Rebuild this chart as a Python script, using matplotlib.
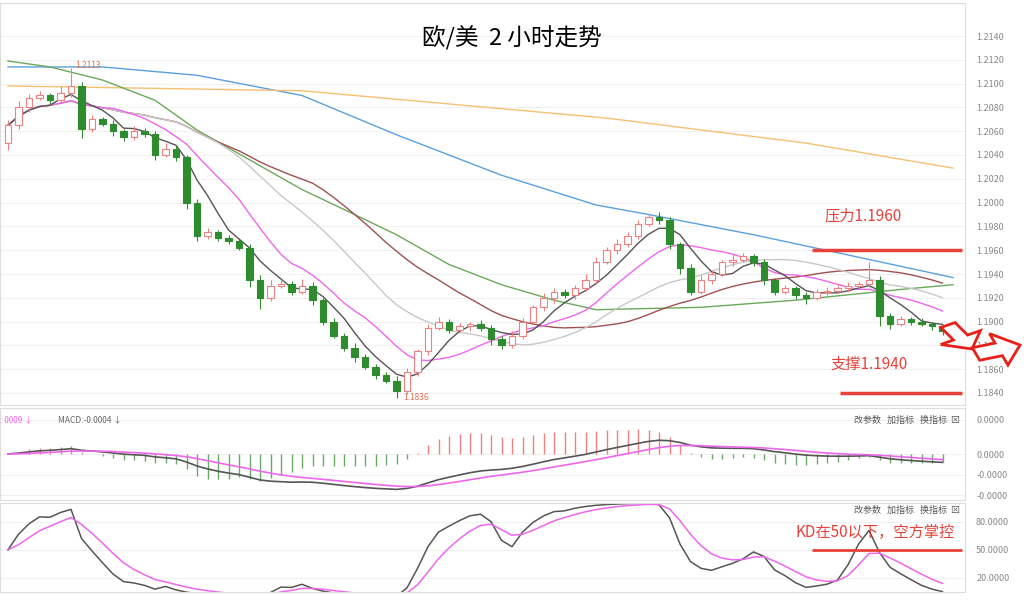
import numpy as np
import pandas as pd
import matplotlib
matplotlib.use("Agg")
import matplotlib.pyplot as plt
from matplotlib.patches import Rectangle, FancyArrow

plt.rcParams['font.family'] = ['Noto Sans CJK SC', 'DejaVu Sans']

closes = [1.2065,1.2080,1.2088,1.2090,1.2086,1.2092,1.2098,1.2062,1.2070,1.2066,
          1.2060,1.2055,1.2060,1.2058,1.2040,1.2045,1.2038,1.2000,1.1972,1.1975,
          1.1970,1.1968,1.1962,1.1935,1.1920,1.1930,1.1932,1.1925,1.1930,1.1918,
          1.1900,1.1888,1.1878,1.1870,1.1862,1.1855,1.1850,1.1842,1.1858,1.1875,
          1.1895,1.1900,1.1893,1.1896,1.1898,1.1895,1.1885,1.1880,1.1888,1.1900,
          1.1912,1.1920,1.1925,1.1922,1.1928,1.1935,1.1950,1.1960,1.1965,1.1972,
          1.1982,1.1988,1.1985,1.1965,1.1945,1.1925,1.1935,1.1940,1.1950,1.1952,
          1.1955,1.1950,1.1935,1.1925,1.1928,1.1922,1.1920,1.1925,1.1926,1.1928,
          1.1930,1.1932,1.1935,1.1905,1.1898,1.1902,1.1900,1.1898,1.1896,1.1892]
first_open = 1.2050
wick_up = [4,5,3,4,2,6,15,3,4,2,3,2,4,3,2,5,3,2,3,4,2,3,2,3,4,5,3,2,6,3,
           2,3,2,4,3,2,3,4,3,2,3,4,2,3,2,3,2,3,4,3,2,4,3,2,3,5,4,3,4,3,
           3,2,4,3,2,3,4,3,2,5,3,2,3,2,3,2,3,2,3,4,3,2,15,3,2,3,2,3,2,2]
wick_dn = [6,3,4,2,3,2,3,8,3,2,4,3,2,3,4,2,3,5,4,3,2,3,2,6,9,3,2,3,2,4,
           3,2,3,4,2,3,2,6,3,4,3,2,3,2,4,3,5,3,2,3,2,3,4,2,3,2,3,2,3,2,
           3,2,3,4,5,3,2,3,2,3,2,3,4,3,2,3,5,2,3,2,3,2,3,9,4,2,3,2,3,3]

blue_x = [0, 9, 18, 28, 37, 47, 56, 61, 71, 80, 90]
blue_y = [1.2114, 1.2114, 1.2107, 1.2090, 1.2057, 1.2023, 1.1998, 1.1990, 1.1973, 1.1956, 1.1937]
orange_x = [0, 28, 57, 76, 90]
orange_y = [1.2098, 1.2094, 1.2071, 1.2050, 1.2029]
green_x = [0, 4, 9, 14, 18, 23, 28, 33, 37, 42, 47, 52, 56, 66, 75, 85, 90]
green_y = [1.2119, 1.2114, 1.2103, 1.2086, 1.2061, 1.2036, 1.2011, 1.1990, 1.1973,
           1.1948, 1.1931, 1.1918, 1.1910, 1.1912, 1.1918, 1.1927, 1.1931]

n = len(closes)
idx = np.arange(n)
c = np.array(closes)
o = np.concatenate([[first_open], c[:-1]])
hi = np.maximum(o, c) + np.array(wick_up) * 1e-4
lo = np.minimum(o, c) - np.array(wick_dn) * 1e-4
s = pd.Series(c)

W, H = 1024, 605
fig = plt.figure(figsize=(10.24, 6.05), dpi=100)
def axrect(top, bot):
    return [0, 1 - bot / H, 965 / W, (bot - top) / H]

ax = fig.add_axes(axrect(3, 405))
axm = fig.add_axes(axrect(408, 500))
axk = fig.add_axes(axrect(503, 592))
xl = (-8 / 10.5, (965 - 8) / 10.5)

for a in (ax, axm, axk):
    a.set_xlim(*xl)
    a.set_xticks([])
    a.yaxis.tick_right()
    a.tick_params(axis='y', length=0, labelsize=6.5, colors='#888888', pad=8)
    for sp in a.spines.values():
        sp.set_color('#dddddd')
    a.grid(axis='y', color='#f0f0f0', lw=0.8)

for i in idx:
    up = c[i] >= o[i]
    col = '#f08080' if up else '#2e8b2e'
    ax.vlines(i, lo[i], hi[i], color=col, lw=0.8, zorder=3)
    b = min(o[i], c[i]); h = max(abs(c[i] - o[i]), 0.00008)
    ax.add_patch(Rectangle((i - 0.3, b), 0.6, h, facecolor='white' if up else col,
                           edgecolor=col, lw=0.8, zorder=4))

ax.plot(blue_x, blue_y, color='#5aa0e0', lw=1)
ax.plot(orange_x, orange_y, color='#f5c070', lw=1)
ax.plot(green_x, green_y, color='#6aaa5a', lw=1)
ax.plot(idx, s.rolling(30, min_periods=1).mean(), color='#a05050', lw=1)
ax.plot(idx, s.rolling(20, min_periods=1).mean(), color='#c8c8c8', lw=1)
ax.plot(idx, s.rolling(10, min_periods=1).mean(), color='#ee66ee', lw=1)
ax.plot(idx, s.rolling(5, min_periods=1).mean(), color='#555555', lw=1)

ticks = np.arange(1.1840, 1.2141, 0.002)
ax.set_yticks(ticks)
ax.set_yticklabels([f"{t:.4f}" for t in ticks])
ax.set_ylim(1.2140 - 369 / 11900, 1.2140 + 33 / 11900)

ax.text(6.4, 1.2113, '1.2113', fontsize=6, color='#e07050')
ax.text(37.6, 1.1836, '1.1836', fontsize=6, color='#e07050', va='center')
ax.hlines(1.1960, 76.6, 90.9, color='#e8413a', lw=2.5)
ax.hlines(1.1840, 79.2, 90.9, color='#e8413a', lw=2.5)
ax.text(77.8, 1.1985, '压力1.1960', color='#e8413a', fontsize=11)
ax.text(78.3, 1.1860, '支撑1.1940', color='#e8413a', fontsize=11)
fig.text(0.5, 1 - 38 / H, '欧/美  2 小时走势', ha='center', va='center', fontsize=17)

fig.patches.append(FancyArrow(948 / W, 1 - 325 / H, 24 / W, -24 / H, width=0.016, head_width=0.045,
                              head_length=0.022, transform=fig.transFigure, facecolor='white',
                              edgecolor='#e8201a', lw=2, length_includes_head=True))
fig.patches.append(FancyArrow(976 / W, 1 - 354 / H, 44 / W, 9 / H, width=0.022, head_width=0.055,
                              head_length=0.022, transform=fig.transFigure, facecolor='white',
                              edgecolor='#e8201a', lw=2, length_includes_head=True))

e12 = s.ewm(span=12, adjust=False).mean(); e26 = s.ewm(span=26, adjust=False).mean()
dif = e12 - e26; dea = dif.ewm(span=9, adjust=False).mean(); hist = dif - dea
for i in idx:
    col = '#f08080' if hist[i] >= 0 else '#66aa66'
    axm.vlines(i, 0, hist[i] * 3, color=col, lw=1)
axm.plot(idx, dif, color='#555555', lw=1.2)
axm.plot(idx, dea, color='#ee66ee', lw=1.2)
lim = max(abs(dif).max(), abs(hist * 3).max()) * 1.3
axm.set_ylim(-lim, lim)
mt = [lim * 0.75, 0.0, -lim * 0.45, -lim * 0.9]
axm.set_yticks(mt)
axm.set_yticklabels(['0.0000', '0.0000', '-0.0000', '-0.0000'])
axm.text(0.0, 0.92, ': 0009 ↓ ', transform=axm.transAxes, fontsize=6, color='#ee66ee', va='top')
axm.text(0.06, 0.92, 'MACD:-0.0004 ↓', transform=axm.transAxes, fontsize=6, color='#666666', va='top')
axm.text(0.995, 0.92, '改参数   加指标   换指标  ⊠', transform=axm.transAxes, fontsize=6.5,
         color='#555555', va='top', ha='right')

ll = s.rolling(9, min_periods=1).min(); hh = s.rolling(9, min_periods=1).max()
rsv = ((s - ll) / (hh - ll).replace(0, np.nan) * 100).fillna(50)
K = rsv.ewm(alpha=1 / 3, adjust=False).mean(); D = K.ewm(alpha=1 / 3, adjust=False).mean()
axk.plot(idx, K, color='#555555', lw=1.1)
axk.plot(idx, D, color='#ee66ee', lw=1.1)
axk.set_ylim(5, 100)
axk.set_yticks([80, 50, 20])
axk.set_yticklabels(['80.0000', '50.0000', '20.0000'])
axk.hlines(50, 76.6, 90.9, color='#e8413a', lw=2)
axk.text(0.995, 0.97, '改参数   加指标   换指标  ⊠', transform=axk.transAxes, fontsize=6.5,
         color='#555555', va='top', ha='right')
axk.text(75.0, 64, 'KD在50以下，空方掌控', color='#e8413a', fontsize=11)

fig.savefig('out.png', dpi=100, facecolor='white')
